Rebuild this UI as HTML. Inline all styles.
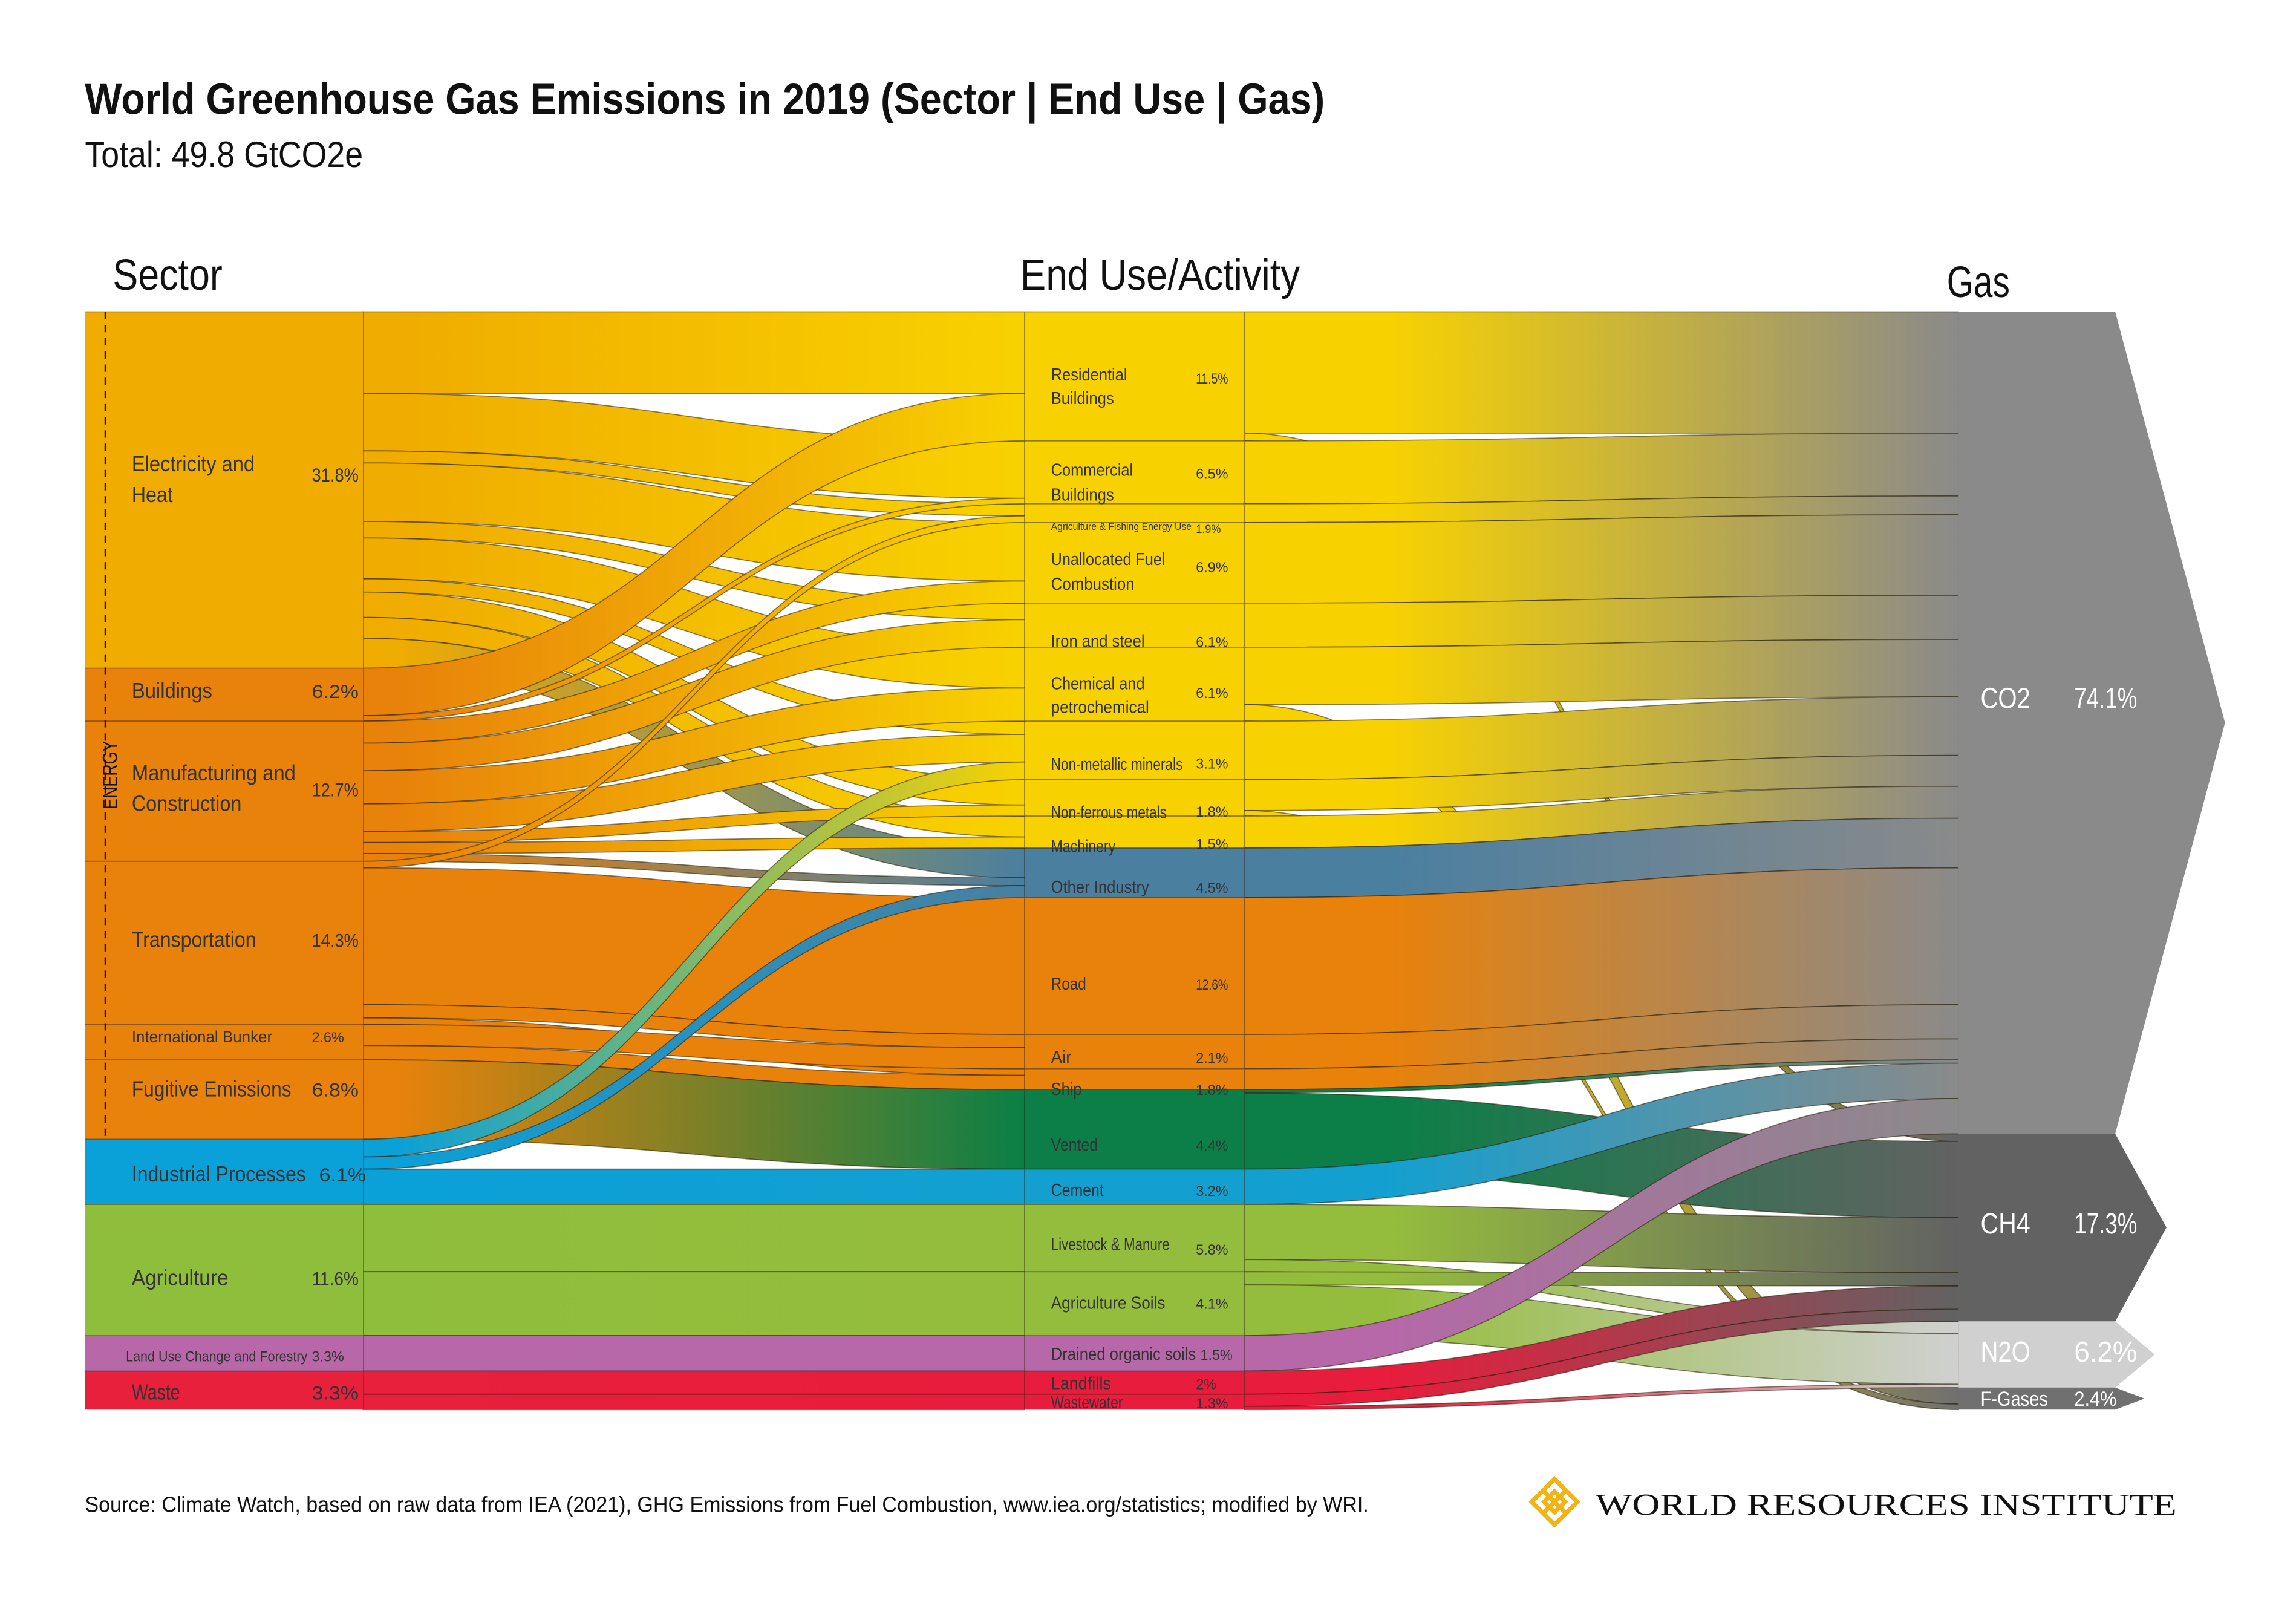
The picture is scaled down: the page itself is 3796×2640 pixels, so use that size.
<!DOCTYPE html>
<html><head><meta charset="utf-8"><title>World GHG Emissions 2019</title>
<style>html,body{margin:0;padding:0;background:#fff;}svg{display:block;}</style></head>
<body>
<svg id="chart" xmlns="http://www.w3.org/2000/svg" width="3796" height="2640" viewBox="0 0 1568.5 1091" preserveAspectRatio="none" font-family="'Liberation Sans', sans-serif">
<defs id="defs"></defs>
<rect width="1600" height="1100" fill="#fff"/>
<text x="58" y="78" font-size="30" font-weight="bold" fill="#111" textLength="847" lengthAdjust="spacingAndGlyphs">World Greenhouse Gas Emissions in 2019 (Sector | End Use | Gas)</text>
<text x="58" y="114" font-size="25" fill="#111" textLength="190" lengthAdjust="spacingAndGlyphs">Total: 49.8 GtCO2e</text>
<text x="77" y="198" font-size="30" fill="#111" textLength="75" lengthAdjust="spacingAndGlyphs">Sector</text>
<text x="697" y="198" font-size="30" fill="#111" textLength="191" lengthAdjust="spacingAndGlyphs">End Use/Activity</text>
<text x="1330" y="203" font-size="30" fill="#111" textLength="43" lengthAdjust="spacingAndGlyphs">Gas</text>
<g id="links"></g>
<g id="nodes"></g>
<g id="labels" fill="#333"></g>
<text x="58" y="1033" font-size="15" fill="#111" textLength="877" lengthAdjust="spacingAndGlyphs">Source: Climate Watch, based on raw data from IEA (2021), GHG Emissions from Fuel Combustion, www.iea.org/statistics; modified by WRI.</text>
<g>
<g transform="translate(1062,1026) rotate(45)" fill="none" stroke="#f2b316" stroke-width="3">
<rect x="-11" y="-11" width="22" height="22"/><rect x="-5" y="-5" width="10" height="10"/>
<line x1="-11" y1="0" x2="11" y2="0"/><line x1="0" y1="-11" x2="0" y2="11"/></g>
<text x="1090" y="1035" font-family="'Liberation Serif', serif" font-size="21" fill="#111" textLength="397" lengthAdjust="spacingAndGlyphs">WORLD RESOURCES INSTITUTE</text>
</g>
</svg>
<script>
// ---- data (values in % of total) ----
const sectors = ["Electricity and Heat","Buildings","Manufacturing and Construction","Transportation","International Bunker","Fugitive Emissions","Industrial Processes","Agriculture","Land Use Change and Forestry","Waste"];
const sectorColors = ["#f0ac00","#e8820a","#e8820a","#e8820a","#e8820a","#e8820a","#0aa0d8","#8fbe3c","#b868a8","#e8203c"];
const endUses = ["Residential Buildings","Commercial Buildings","Agriculture & Fishing Energy Use","Unallocated Fuel Combustion","Iron and steel","Chemical and petrochemical","Non-metallic minerals","Non-ferrous metals","Machinery","Other Industry","Road","Air","Ship","Vented","Cement","Livestock & Manure","Agriculture Soils","Drained organic soils","Landfills","Wastewater"];
const endUseColors = ["#f8d200","#f8d200","#f8d200","#f8d200","#f8d200","#f8d200","#f8d200","#f8d200","#f8d200","#4a7fa0","#e8820a","#e8820a","#e8820a","#0b7f47","#13a0d0","#95bd3d","#95bd3d","#b668a8","#e81c3c","#e81c3c"];
const gases = ["CO2","CH4","N2O","F-Gases"];
const gasColors = ["#8a8a8a","#626262","#d0d0d0","#707070"];
// sector -> end use flows
const flowSrc1 = [0,0,0,0,0,0,0,0,0,0, 1,1, 2,2,2,2,2,2,2, 3,3,3,3, 4,4, 5, 6,6,6, 7,7, 8, 9,9];
const flowDst1 = [0,1,2,3,4,5,6,7,8,9, 0,1, 3,4,5,6,7,8,9, 2,10,11,12, 11,12, 13, 6,9,14, 15,16, 17, 18,19];
const flowVal1 = [7.4,5.2,1.1,5.3,1.5,3.7,1.2,2.3,1.9,2.7, 4.3,0.5, 2.0,2.5,3.0,2.5,1.0,1.0,0.7, 0.6,12.4,1.2,0.6, 1.9,1.3, 7.2, 1.6,1.1,3.2, 6.1,5.8, 3.2, 2.1,1.4];
// end use -> gas flows
const flowSrc2 = [0,0,1,2,3,4,5,5,6,7,7,8,9,10,11,12,13,13,14,15,15,16,16,17,18,19,19];
const flowDst2 = [0,1,0,0,0,0,0,3,0,0,3,0,0,0,0,0,0,1,0,1,2,1,2,0,1,1,2];
const flowVal2 = [11.0,0.7,5.7,1.7,7.3,4.0,5.2,1.5,5.3,2.8,0.5,2.9,4.5,12.4,3.1,1.9,0.3,6.9,3.2,5.0,1.1,1.2,4.6,3.2,2.1,1.1,0.3];
// printed labels
const sectorPct = ["31.8%","6.2%","12.7%","14.3%","2.6%","6.8%","6.1%","11.6%","3.3%","3.3%"];
const endUsePct = ["11.5%","6.5%","1.9%","6.9%","6.1%","6.1%","3.1%","1.8%","1.5%","4.5%","12.6%","2.1%","1.8%","4.4%","3.2%","5.8%","4.1%","1.5%","2%","1.3%"];
const gasPct = ["74.1%","17.3%","6.2%","2.4%"];

// ---- layout ----
const NS = "http://www.w3.org/2000/svg";
const TOP = 213, H = 750;
const X0a = 58, X0b = 248, X1a = 700, X1b = 850, X2 = 1338;
function sum(a){return a.reduce((s,v)=>s+v,0);}
const total = sum(flowVal1);
const k = H / total;
function yScale(v){return v * k;}
function stack(n, vals){const ys=[];let y=TOP;for(let i=0;i<n;i++){ys.push(y);y+=yScale(vals[i]);}return ys;}
const sVal = sectors.map((_,i)=>sum(flowVal1.filter((v,j)=>flowSrc1[j]===i)));
const eIn = endUses.map((_,i)=>sum(flowVal1.filter((v,j)=>flowDst1[j]===i)));
const eOut = endUses.map((_,i)=>sum(flowVal2.filter((v,j)=>flowSrc2[j]===i)));
const eVal = endUses.map((_,i)=>Math.max(eIn[i],eOut[i]));
const gVal = gases.map((_,i)=>sum(flowVal2.filter((v,j)=>flowDst2[j]===i)));
const sY = stack(sectors.length, sVal), eY = stack(endUses.length, eVal);
const gY = stack(gases.length, gVal);

const defs = document.getElementById('defs');
const linksG = document.getElementById('links');
const nodesG = document.getElementById('nodes');
const labelsG = document.getElementById('labels');
let gid = 0;
function grad(xa, xb, ca, cb, o1){
  const g = document.createElementNS(NS,'linearGradient');
  const id = 'g'+(gid++);
  g.setAttribute('id',id);g.setAttribute('gradientUnits','userSpaceOnUse');
  g.setAttribute('x1',xa);g.setAttribute('x2',xb);g.setAttribute('y1',0);g.setAttribute('y2',0);
  [[0,ca],[o1,ca],[1,cb]].forEach(([o,c])=>{const s=document.createElementNS(NS,'stop');s.setAttribute('offset',o);s.setAttribute('stop-color',c);g.appendChild(s);});
  defs.appendChild(g);return 'url(#'+id+')';
}
function ribbon(xa, ya, xb, yb, h, fill, name){
  const xm = (xa+xb)/2;
  const p = document.createElementNS(NS,'path');
  p.setAttribute('d',`M${xa},${ya}C${xm},${ya} ${xm},${yb} ${xb},${yb}L${xb},${yb+h}C${xm},${yb+h} ${xm},${ya+h} ${xa},${ya+h}Z`);
  p.setAttribute('fill',fill);p.setAttribute('stroke','rgba(40,30,10,0.55)');p.setAttribute('stroke-width','0.7');
  
  
  linksG.appendChild(p);
}
function drawLinks(src, dst, val, srcY, dstY, nS, nD, xa, xb, colA, colB, o1, prefix){
  const outOff = new Array(nS).fill(0), inOff = new Array(nD).fill(0);
  const order = val.map((_,i)=>i);
  const so = {}, ino = {};
  order.slice().sort((a,b)=>src[a]-src[b]||dst[a]-dst[b]).forEach(i=>{so[i]=outOff[src[i]];outOff[src[i]]+=yScale(val[i]);});
  order.slice().sort((a,b)=>dst[a]-dst[b]||src[a]-src[b]).forEach(i=>{ino[i]=inOff[dst[i]];inOff[dst[i]]+=yScale(val[i]);});
  order.forEach(i=>{
    const f = grad(xa,xb,colA[src[i]],colB[dst[i]],o1);
    ribbon(xa, srcY[src[i]]+so[i], xb, dstY[dst[i]]+ino[i], yScale(val[i]), f, prefix+'-'+src[i]+'-'+dst[i]);
  });
}
drawLinks(flowSrc2, flowDst2, flowVal2, eY, gY, endUses.length, gases.length, X1b, X2, endUseColors, gasColors, 0.2, 'link-enduse-gas');
drawLinks(flowSrc1, flowDst1, flowVal1, sY, eY, sectors.length, endUses.length, X0b, X1a, sectorColors, endUseColors, 0.05, 'link-sector-enduse');

function rect(x,y,w,h,fill,name){
  const r=document.createElementNS(NS,'rect');
  r.setAttribute('x',x);r.setAttribute('y',y);r.setAttribute('width',w);r.setAttribute('height',h);r.setAttribute('fill',fill);
  
  
  nodesG.appendChild(r);return r;
}
sectors.forEach((s,i)=>{rect(X0a,sY[i],X0b-X0a,yScale(sVal[i]),sectorColors[i],'sector-node-'+i);
  const l=document.createElementNS(NS,'line');l.setAttribute('x1',X0a);l.setAttribute('x2',X0b);l.setAttribute('y1',sY[i]);l.setAttribute('y2',sY[i]);l.setAttribute('stroke','rgba(60,30,0,0.5)');l.setAttribute('stroke-width','0.7');
  
  
  nodesG.appendChild(l);});
endUses.forEach((s,i)=>{rect(X1a,eY[i],X1b-X1a,yScale(eVal[i]),endUseColors[i],'enduse-node-'+i);
  const l=document.createElementNS(NS,'line');l.setAttribute('x1',X1a);l.setAttribute('x2',X1b);l.setAttribute('y1',eY[i]);l.setAttribute('y2',eY[i]);l.setAttribute('stroke','rgba(40,30,0,0.5)');l.setAttribute('stroke-width','0.7');
  
  
  nodesG.appendChild(l);});
const tips=[1520,1480,1472,1465];
gases.forEach((g,i)=>{
  const y=gY[i],h=yScale(gVal[i]);
  const p=document.createElementNS(NS,'polygon');
  p.setAttribute('points',`${X2},${y} 1445,${y} ${tips[i]},${y+h/2} 1445,${y+h} ${X2},${y+h}`);
  p.setAttribute('fill',gasColors[i]);
  
  
  nodesG.appendChild(p);
});
// energy dashed bracket
const dl=document.createElementNS(NS,'line');
dl.setAttribute('x1',72);dl.setAttribute('x2',72);dl.setAttribute('y1',TOP);dl.setAttribute('y2',sY[6]);
dl.setAttribute('stroke','#111');dl.setAttribute('stroke-width','1.2');dl.setAttribute('stroke-dasharray','5,4');


nodesG.appendChild(dl);

function txt(x,y,s,size,w,name,fill){
  const t=document.createElementNS(NS,'text');
  t.setAttribute('x',x);t.setAttribute('y',y);t.setAttribute('font-size',size);
  if(w){t.setAttribute('textLength',w);t.setAttribute('lengthAdjust','spacingAndGlyphs');}
  if(fill)t.setAttribute('fill',fill);
  t.textContent=s;
  
  
  labelsG.appendChild(t);return t;
}
const en=txt(0,0,'ENERGY',14,47,'energy-label','#111');
en.setAttribute('transform','translate(80,553) rotate(-90)');
// sector labels
const sL=[[["Electricity and",322,84],["Heat",343,28]],[["Buildings",477,55]],[["Manufacturing and",533,112],["Construction",554,75]],[["Transportation",647,85]],[["International Bunker",712,96]],[["Fugitive Emissions",749,109]],[["Industrial Processes",807,119]],[["Agriculture",878,66]],[["Land Use Change and Forestry",930,124]],[["Waste",956,33]]];
const sLs=[15,15,15,15,11,15,15,15,10,15];
const sPy=[329,477,544,647,712,749,807,878,930,956];
sL.forEach((lines,i)=>{lines.forEach(([s,y,w],j)=>txt(i===8?86:90,y,s,sLs[i],w,'sector-label-'+i+'-'+j));
  txt(i===6?218:213,sPy[i],sectorPct[i],i===4||i===8?10:13,i===4||i===8?22:32,'sector-pct-'+i);});
// end use labels
const eL=[[["Residential",260,52],["Buildings",276,43]],[["Commercial",325,56],["Buildings",342,43]],[["Agriculture & Fishing Energy Use",362,96]],[["Unallocated Fuel",386,78],["Combustion",403,57]],[["Iron and steel",442,64]],[["Chemical and",471,64],["petrochemical",487,67]],[["Non-metallic minerals",526,90]],[["Non-ferrous metals",559,79]],[["Machinery",582,44]],[["Other Industry",610,67]],[["Road",676,24]],[["Air",726,14]],[["Ship",748,21]],[["Vented",786,32]],[["Cement",817,36]],[["Livestock & Manure",854,81]],[["Agriculture Soils",894,78]],[["Drained organic soils",929,99]],[["Landfills",949,41]],[["Wastewater",962,49]]];
const ePy=[262,327,364,391,442,477,525,558,580,610,676,726,748,786,817,857,894,929,949,962];
eL.forEach((lines,i)=>{lines.forEach(([s,y,w],j)=>txt(718,y,s,i===2?7:12,w,'enduse-label-'+i+'-'+j));
  txt(i===17?820:817,ePy[i],endUsePct[i],i===2?8:10,i===2?17:(endUsePct[i].length>3?22:14),'enduse-pct-'+i);});
// gas labels
const gFs=[20,20,20,14];
const gShift=[-17,-3,-2,0];
gases.forEach((g,i)=>{const cy=gY[i]+yScale(gVal[i])/2+gFs[i]*0.35+gShift[i];
  txt(1353,cy,g,gFs[i],i===3?46:34,'gas-label-'+i,'#fff');
  txt(1417,cy,gasPct[i],gFs[i],i===3?29:43,'gas-pct-'+i,'#fff');});
</script>
</body></html>
